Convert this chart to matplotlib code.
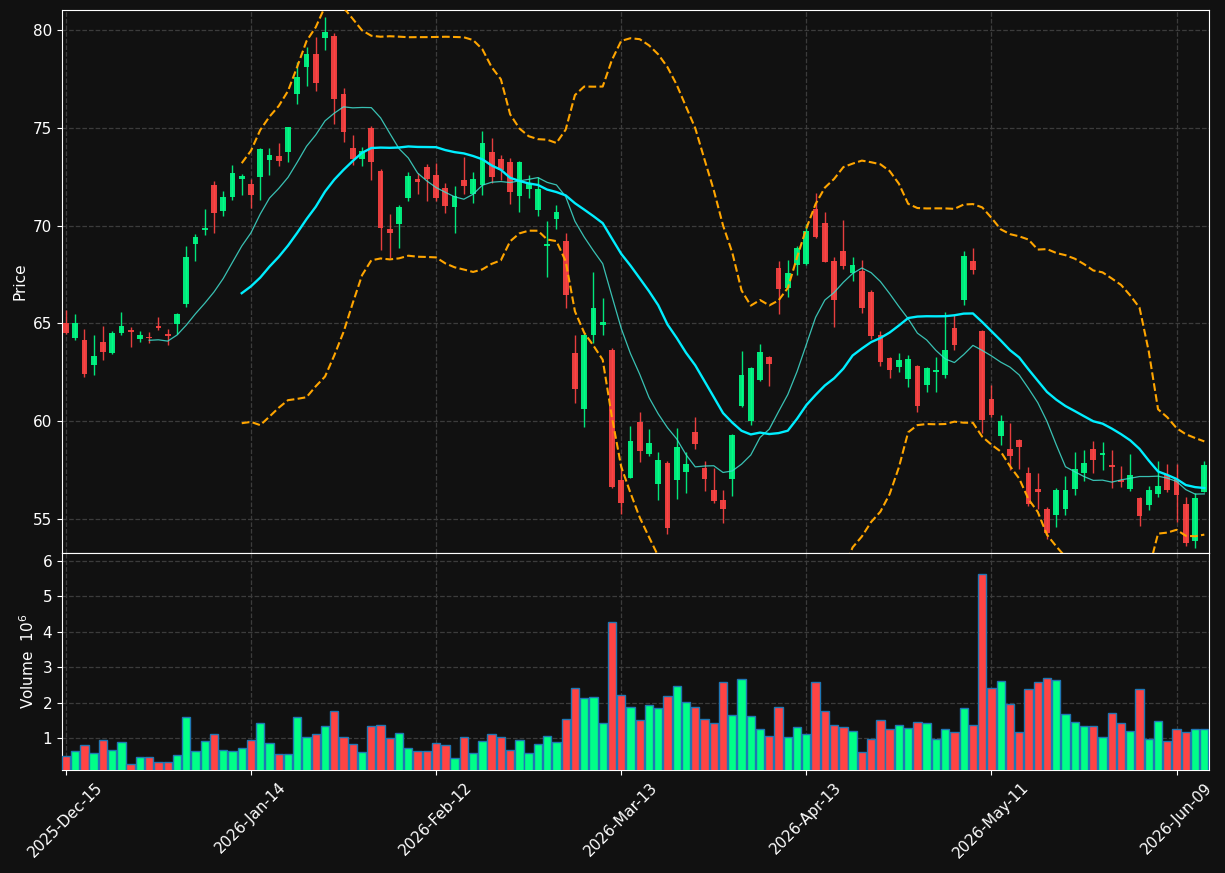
import numpy as np
import pandas as pd
import matplotlib
matplotlib.use("Agg")
import matplotlib.pyplot as plt

# NYSE trading days, Dec 2025 - Jun 2026
holidays = ["2025-12-25", "2026-01-01", "2026-01-19", "2026-02-16", "2026-04-03", "2026-05-25"]
dates = pd.bdate_range("2025-12-15", "2026-06-12", freq="C", holidays=holidays)

opens = [65.02, 64.25, 64.15, 62.89, 64.05, 63.48, 64.51, 64.66, 64.20, 64.30,
         64.86, 64.45, 64.97, 66.01, 69.06, 69.78, 72.06, 70.73, 71.45, 72.41,
         72.16, 72.48, 73.38, 73.59, 73.76, 76.72, 78.10, 78.79, 79.63, 79.71,
         76.75, 74.00, 73.40, 75.02, 72.81, 69.81, 70.09, 71.41, 72.41, 72.98,
         72.62, 71.94, 70.95, 72.36, 71.63, 72.07, 73.79, 73.43, 73.28, 71.50,
         71.88, 70.79, 68.95, 70.36, 69.24, 63.51, 60.61, 64.39, 64.91, 63.66,
         57.01, 57.11, 59.95, 58.32, 56.80, 57.86, 57.01, 57.41, 59.44, 57.60,
         56.48, 55.97, 57.06, 60.78, 60.00, 62.09, 63.28, 67.82, 66.80, 67.99,
         68.04, 70.87, 70.12, 68.18, 68.69, 67.60, 67.69, 66.60, 64.42, 63.23,
         62.79, 62.16, 62.82, 61.86, 62.51, 62.37, 64.76, 66.21, 68.19, 64.61,
         61.13, 59.25, 58.57, 59.03, 57.34, 56.52, 55.49, 55.22, 55.53, 56.55,
         57.36, 58.57, 58.28, 57.76, 56.99, 56.55, 56.07, 55.73, 56.29, 57.24,
         57.06, 55.75, 53.89, 56.39]
highs = [65.68, 65.46, 64.71, 64.39, 64.88, 64.59, 65.61, 64.80, 64.59, 64.54,
         65.31, 64.74, 65.56, 68.94, 69.60, 70.87, 72.30, 71.79, 73.11, 72.67,
         72.41, 73.98, 73.98, 74.23, 75.07, 78.37, 79.17, 79.64, 80.70, 79.85,
         77.04, 74.64, 74.03, 75.10, 72.91, 70.61, 71.04, 72.77, 72.72, 73.16,
         73.21, 72.21, 72.04, 73.52, 72.76, 74.85, 74.49, 73.60, 73.47, 73.31,
         72.60, 72.49, 70.24, 71.08, 69.63, 64.43, 64.50, 67.63, 66.30, 63.75,
         57.69, 59.78, 60.49, 59.59, 58.45, 57.96, 59.63, 58.45, 60.24, 57.99,
         57.59, 56.46, 59.37, 63.61, 62.75, 63.96, 63.35, 68.18, 68.25, 68.96,
         70.10, 71.68, 70.71, 68.42, 70.31, 68.40, 68.27, 66.70, 64.63, 63.30,
         63.49, 63.38, 62.90, 62.75, 63.31, 65.61, 65.41, 68.69, 68.84, 64.65,
         61.86, 60.34, 59.93, 59.11, 57.66, 57.37, 55.63, 56.58, 57.18, 58.40,
         58.54, 59.00, 58.95, 58.52, 57.70, 58.30, 56.11, 56.67, 57.98, 57.79,
         57.79, 56.11, 56.34, 57.99]
lows = [64.44, 64.18, 62.24, 62.38, 63.14, 63.43, 64.42, 63.82, 64.03, 63.98,
        64.66, 63.88, 64.45, 65.82, 68.22, 69.51, 69.64, 70.49, 71.34, 71.56,
        70.92, 71.31, 72.59, 73.04, 73.25, 76.22, 77.13, 76.87, 79.01, 75.20,
        74.29, 73.10, 73.06, 72.35, 68.74, 68.37, 68.88, 71.28, 71.63, 71.28,
        71.26, 70.66, 69.64, 71.63, 71.16, 71.56, 72.19, 72.36, 71.11, 70.70,
        71.40, 70.48, 67.38, 69.83, 65.79, 60.92, 59.71, 64.00, 64.39, 56.59,
        55.26, 57.11, 57.93, 58.23, 55.95, 54.22, 56.00, 56.31, 58.59, 56.45,
        55.80, 54.78, 56.17, 60.75, 59.83, 62.06, 61.82, 65.46, 66.38, 67.47,
        68.01, 69.39, 68.15, 64.81, 67.81, 67.16, 65.56, 64.20, 62.81, 62.23,
        62.50, 61.73, 60.48, 61.47, 61.52, 62.20, 63.62, 65.94, 67.54, 59.42,
        60.19, 58.79, 57.49, 57.58, 55.68, 55.53, 53.96, 54.57, 55.19, 56.21,
        56.92, 57.36, 57.52, 56.56, 56.62, 56.41, 54.66, 55.48, 56.12, 56.36,
        54.86, 53.62, 53.50, 56.39]
closes = [64.51, 65.02, 62.41, 63.33, 63.55, 64.51, 64.86, 64.56, 64.40, 64.25,
          64.76, 64.35, 65.48, 68.39, 69.41, 69.86, 70.65, 71.45, 72.72, 72.52,
          71.56, 73.95, 73.64, 73.33, 75.07, 77.62, 78.79, 77.28, 79.91, 76.46,
          74.78, 73.44, 73.83, 73.25, 69.86, 69.63, 70.97, 72.52, 72.23, 72.41,
          71.41, 71.00, 71.53, 72.02, 72.41, 74.25, 72.48, 72.87, 71.71, 73.28,
          72.19, 71.90, 69.08, 70.72, 66.44, 61.63, 64.43, 65.81, 65.09, 56.62,
          55.80, 58.98, 58.49, 58.88, 58.01, 54.56, 58.67, 57.79, 58.84, 57.06,
          55.94, 55.53, 59.29, 62.35, 62.70, 63.52, 62.94, 66.77, 67.57, 68.84,
          69.73, 69.42, 68.15, 66.21, 67.93, 67.98, 65.80, 64.37, 63.04, 62.64,
          63.13, 63.18, 60.79, 62.71, 62.61, 63.63, 63.91, 68.45, 67.75, 60.07,
          60.32, 60.00, 58.23, 58.69, 55.75, 56.38, 54.30, 56.48, 56.48, 57.53,
          57.86, 58.01, 58.37, 57.67, 56.90, 57.23, 55.17, 56.48, 56.67, 56.50,
          56.22, 53.79, 56.09, 57.76]
# volume in millions
volumes = [0.49, 0.63, 0.80, 0.58, 0.94, 0.66, 0.89, 0.27, 0.45, 0.45,
           0.32, 0.32, 0.52, 1.59, 0.63, 0.92, 1.11, 0.66, 0.63, 0.72,
           0.94, 1.42, 0.86, 0.55, 0.55, 1.59, 1.03, 1.11, 1.34, 1.76,
           1.03, 0.83, 0.60, 1.34, 1.37, 1.00, 1.14, 0.72, 0.63, 0.63,
           0.86, 0.80, 0.43, 1.03, 0.58, 0.92, 1.11, 1.03, 0.66, 0.94,
           0.58, 0.83, 1.06, 0.89, 1.54, 2.41, 2.13, 2.16, 1.42, 4.28,
           2.21, 1.88, 1.51, 1.93, 1.85, 2.19, 2.47, 2.02, 1.88, 1.54,
           1.42, 2.58, 1.65, 2.67, 1.62, 1.25, 1.06, 1.88, 1.03, 1.31,
           1.11, 2.58, 1.76, 1.37, 1.31, 1.20, 0.60, 0.97, 1.51, 1.25,
           1.37, 1.28, 1.45, 1.42, 0.97, 1.25, 1.17, 1.85, 1.37, 5.63,
           2.41, 2.61, 1.96, 1.17, 2.38, 2.58, 2.69, 2.64, 1.68, 1.45,
           1.34, 1.34, 1.03, 1.71, 1.42, 1.20, 2.38, 0.97, 1.48, 0.92,
           1.25, 1.17, 1.25, 1.25]

BG = "#111111"
UP = "#00ff88"
DOWN = "#ff4444"
GRID = "#3c3c3c"

df = pd.DataFrame({"Open": opens, "High": highs, "Low": lows,
                   "Close": closes, "Volume": volumes}, index=dates[:len(closes)])
x = np.arange(len(df))
o, h, l, c = df["Open"].values, df["High"].values, df["Low"].values, df["Close"].values
colors = np.where(c >= o, UP, DOWN)

sma10 = df["Close"].rolling(10).mean()
sma20 = df["Close"].rolling(20).mean()
std20 = df["Close"].rolling(20).std()
bb_up = sma20 + 2 * std20
bb_lo = sma20 - 2 * std20

fig = plt.figure(figsize=(12.25, 8.73), dpi=100, facecolor=BG)
ax = fig.add_axes([0.0506, 0.3666, 0.9363, 0.622])
axv = fig.add_axes([0.0506, 0.118, 0.9363, 0.2486], sharex=ax)

for a in (ax, axv):
    a.set_facecolor(BG)
    a.grid(True, color=GRID, linestyle="--", linewidth=0.9)
    a.set_axisbelow(True)
    for s in a.spines.values():
        s.set_color("white")
    a.tick_params(colors="white", labelsize=11)

# candles
ax.vlines(x, l, h, colors=colors, linewidth=1.0, alpha=0.9, zorder=2)
ax.bar(x, np.abs(c - o), bottom=np.minimum(o, c), width=0.62,
       color=colors, alpha=0.9, zorder=3)

ax.plot(x, sma10, color="#40e0d0", linewidth=0.9, alpha=0.85, zorder=4)
ax.plot(x, sma20, color="#00eeff", linewidth=1.7, zorder=4)
ax.plot(x, bb_up, color="orange", linestyle="--", linewidth=1.5, zorder=4)
ax.plot(x, bb_lo, color="orange", linestyle="--", linewidth=1.5, zorder=4)

ax.set_ylim(53.26, 81.04)
ax.set_yticks([55, 60, 65, 70, 75, 80])
ax.set_ylabel("Price", color="white", fontsize=11)
ax.tick_params(axis="x", labelbottom=False, length=0)

# volume
axv.bar(x, df["Volume"].values, width=0.9, color=colors,
        edgecolor="#1f77b4", linewidth=1.0, zorder=3)
axv.set_ylim(0.096, 6.23)
axv.set_yticks([1, 2, 3, 4, 5, 6])
axv.set_ylabel("Volume  $10^{6}$", color="white", fontsize=11)

ticks = list(range(0, len(df), 20))
axv.set_xticks(ticks)
axv.set_xticklabels([df.index[t].strftime("%Y-%b-%d") for t in ticks], rotation=45)
axv.set_xlim(-0.42, 123.5)

fig.savefig("out.png", dpi=100, facecolor=BG)
